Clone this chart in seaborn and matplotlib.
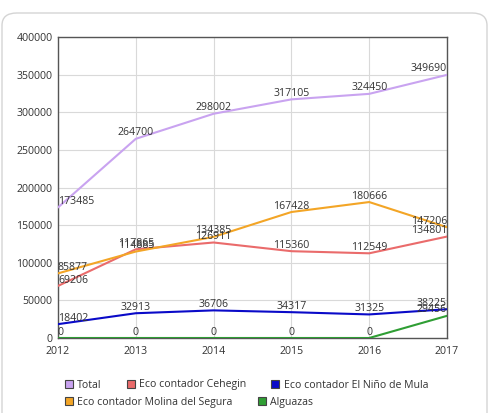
import numpy as np
import pandas as pd
import matplotlib
matplotlib.use('Agg')
import matplotlib.pyplot as plt
import seaborn as sns
from matplotlib.lines import Line2D
from matplotlib.patches import FancyBboxPatch

years = [2012, 2013, 2014, 2015, 2016, 2017]
total = [173485, 264700, 298002, 317105, 324450, 349690]
cehegin = [69206, 117865, 126911, 115360, 112549, 134801]
mula = [18402, 32913, 36706, 34317, 31325, 38225]
molina = [85877, 114885, 134385, 167428, 180666, 147206]
alguazas = [0, 0, 0, 0, 0, 29456]

series = {
    'Total': total,
    'Eco contador Cehegin': cehegin,
    'Eco contador El Niño de Mula': mula,
    'Eco contador Molina del Segura': molina,
    'Alguazas': alguazas,
}
colores = {
    'Total': '#c9a3f0',
    'Eco contador Cehegin': '#ea6b6b',
    'Eco contador El Niño de Mula': '#0a0ac8',
    'Eco contador Molina del Segura': '#f3a526',
    'Alguazas': '#2f9e34',
}

df = pd.concat([pd.DataFrame({'anio': years, 'valor': v, 'serie': k}) for k, v in series.items()])

sns.set_theme(style='white')
plt.rcParams['font.family'] = ['Open Sans', 'DejaVu Sans']

fig = plt.figure(figsize=(4.94, 4.13), dpi=100)
# tarjeta de fondo
card = FancyBboxPatch((2 / 494, -0.05), 485 / 494, 1 - 13 / 413 + 0.05,
                      boxstyle='round,pad=0,rounding_size=0.03', transform=fig.transFigure,
                      facecolor='white', edgecolor='#d4d4d4', linewidth=1, zorder=-10)
fig.patches.append(card)

ax = fig.add_axes([58 / 494, 1 - 338 / 413, (447 - 58) / 494, (338 - 37) / 413])
sns.lineplot(data=df, x='anio', y='valor', hue='serie', palette=colores, linewidth=1.5,
             ax=ax, legend=False, zorder=3)

ax.set_xlim(2012, 2017)
ax.set_ylim(0, 400000)
ax.set_xticks(years)
ax.set_yticks(np.arange(0, 400001, 50000))
ax.grid(True, color='#d9d9d9', linewidth=0.8)
ax.set_xlabel('')
ax.set_ylabel('')
for s in ax.spines.values():
    s.set_color('#555555')
    s.set_linewidth(1)
ax.tick_params(axis='both', length=0, labelsize=7.6, colors='#333333', pad=4)
ax.tick_params(axis='x', pad=6)

# etiquetas de valores
for k, v in series.items():
    for x, y in zip(years, v):
        ha = 'left' if x == years[0] else ('right' if x == years[-1] else 'center')
        ax.annotate(str(y), (x, y), xytext=(0, 0.3), textcoords='offset points',
                    ha=ha, va='bottom', fontsize=7.6, color='#333333', zorder=4,
                    annotation_clip=False)

def handle(c):
    return Line2D([], [], linestyle='none', marker='s', markersize=5.5,
                  markerfacecolor=c, markeredgecolor='#444444', markeredgewidth=0.8)

fila1 = ['Total', 'Eco contador Cehegin', 'Eco contador El Niño de Mula']
fila2 = ['Eco contador Molina del Segura', 'Alguazas']
opts = dict(frameon=False, fontsize=7.6, handlelength=0.7, handletextpad=0.45,
            columnspacing=2.4, borderpad=0, borderaxespad=0, labelcolor='#333333')
fig.legend([handle(colores[k]) for k in fila1], fila1, ncol=3, loc='center left',
           bbox_to_anchor=(65 / 494, 1 - 385 / 413), **opts)
fig.legend([handle(colores[k]) for k in fila2], fila2, ncol=2, loc='center left',
           bbox_to_anchor=(65 / 494, 1 - 402 / 413), **opts)

fig.savefig('out.png', dpi=100)
